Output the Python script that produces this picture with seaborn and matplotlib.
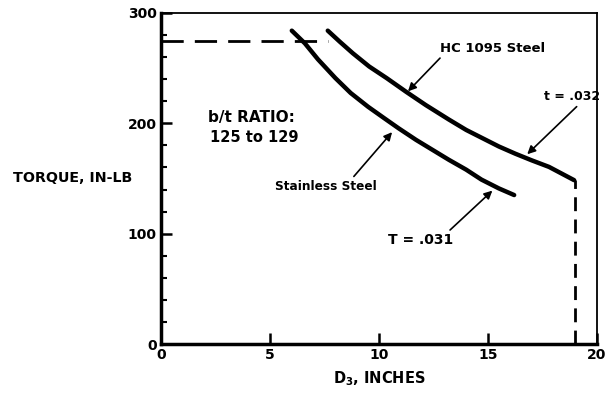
import matplotlib
matplotlib.use("Agg")
import matplotlib.pyplot as plt
import seaborn as sns
import pandas as pd
from matplotlib.ticker import MultipleLocator

# ---- data ----
stainless_d3 = [6.0, 6.6, 7.2, 8.0, 8.7, 9.5, 10.25, 10.9, 11.7, 12.45, 13.2,
                14.0, 14.7, 15.5, 16.2]
stainless_torque = [284, 272.5, 258, 241, 227.5, 215, 204.5, 195.5, 185, 176,
                    167, 158, 149, 141, 135]
hc_d3 = [7.65, 8.2, 8.8, 9.55, 10.35, 11.25, 12.15, 13.2, 14.0, 14.75, 15.5,
         16.25, 17.0, 17.8, 18.95]
hc_torque = [284, 274, 263.5, 251.5, 241, 228.5, 216.5, 203.5, 194, 186.5,
             179, 172.5, 166.5, 160.5, 148.5]
limit_torque = 275
limit_d3 = 19.0
x_ticks = [0, 5, 10, 15, 20]
y_ticks = [0, 100, 200, 300]

sns.set_style("ticks")
plt.rcParams['font.family'] = ['DejaVu Sans']
plt.rcParams['font.weight'] = 'bold'
plt.rcParams['mathtext.default'] = 'bf'
for key in ['text.color', 'axes.labelcolor', 'xtick.color', 'ytick.color',
            'axes.edgecolor']:
    plt.rcParams[key] = 'black'

fig = plt.figure(figsize=(6.07, 3.95), dpi=100)
ax = fig.add_axes([161/607, 1 - 344/395, (597-161)/607, (344-13)/395])

df_s = pd.DataFrame({"d3": stainless_d3, "torque": stainless_torque})
df_h = pd.DataFrame({"d3": hc_d3, "torque": hc_torque})
sns.lineplot(data=df_s, x="d3", y="torque", ax=ax, color="black", lw=3.2,
             sort=True, solid_capstyle="round", solid_joinstyle="round")
sns.lineplot(data=df_h, x="d3", y="torque", ax=ax, color="black", lw=3.2,
             sort=True, solid_capstyle="round", solid_joinstyle="round")

# dashed limit lines
ax.plot([0, hc_d3[0]], [limit_torque, limit_torque], color="black", lw=2,
        dashes=(8, 4))
ax.plot([limit_d3, limit_d3], [0, hc_torque[-1]], color="black", lw=2,
        dashes=(5, 3))

ax.set_xlim(0, 20)
ax.set_ylim(0, 300)
ax.set_xticks(x_ticks)
ax.set_yticks(y_ticks)
ax.yaxis.set_minor_locator(MultipleLocator(20))
ax.tick_params(axis="both", which="major", direction="in", length=8, width=1.8,
               labelsize=10, pad=3, colors="black")
ax.tick_params(axis="y", which="minor", direction="in", length=4, width=1.5,
               colors="black")
for lab in ax.get_xticklabels() + ax.get_yticklabels():
    lab.set_fontweight("bold")

for side in ["left", "bottom"]:
    ax.spines[side].set_linewidth(2.5)
for side in ["top", "right"]:
    ax.spines[side].set_linewidth(1.3)
for s in ax.spines.values():
    s.set_color("black")

ax.set_xlabel("D$_3$, INCHES", fontsize=10.5, fontweight="bold", labelpad=5,
              color="black")
ax.set_ylabel("")
fig.text(13/607, 1 - 178/395, "TORQUE, IN-LB", fontsize=10.3, fontweight="bold",
         va="center", ha="left", color="black")

ax.text(2.15, 205, "b/t RATIO:", fontsize=11, fontweight="bold", va="center",
        color="black")
ax.text(2.25, 187, "125 to 129", fontsize=10.5, fontweight="bold", va="center",
        color="black")

arrow = dict(arrowstyle="-|>", color="black", lw=1.2, mutation_scale=12,
             shrinkA=0, shrinkB=0)
ax.annotate("HC 1095 Steel", xy=(11.33, 229), xytext=(12.8, 268),
            fontsize=9.5, fontweight="bold", ha="left", va="center",
            color="black", arrowprops=dict(arrow, relpos=(0.03, 0.0)))
ax.annotate("t = .032", xy=(16.8, 172), xytext=(17.55, 224),
            fontsize=9, fontweight="bold", ha="left", va="center",
            color="black", arrowprops=dict(arrow, relpos=(0.65, 0.0)),
            annotation_clip=False)
ax.annotate("Stainless Steel", xy=(10.6, 192), xytext=(7.55, 143),
            fontsize=8.7, fontweight="bold", ha="center", va="center",
            color="black", arrowprops=dict(arrow, relpos=(0.75, 1.0)))
ax.annotate("T = .031", xy=(15.2, 139), xytext=(11.9, 94),
            fontsize=10, fontweight="bold", ha="center", va="center",
            color="black", arrowprops=dict(arrow, relpos=(0.9, 1.0)))

fig.savefig("out.png", dpi=100)
